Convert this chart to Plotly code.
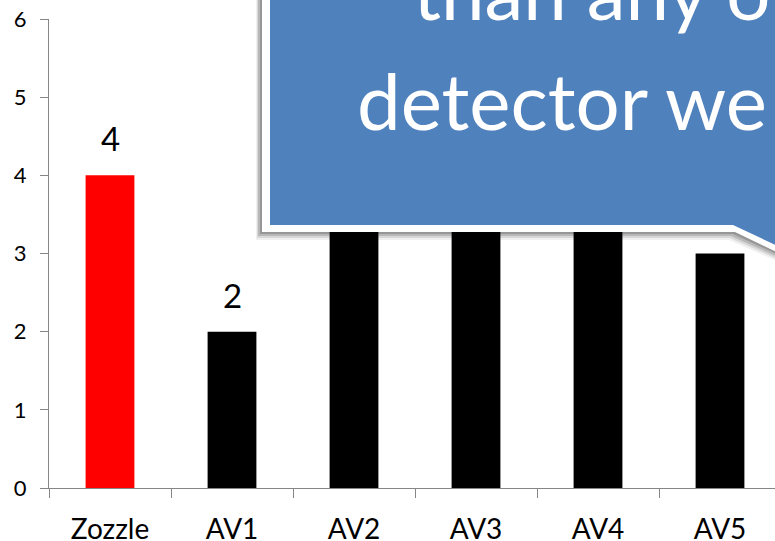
import plotly.graph_objects as go

categories = ["Zozzle", "AV1", "AV2", "AV3", "AV4", "AV5"]
values = [4, 2, 4, 4, 4, 3]
bar_colors = ["#FF0000", "#000000", "#000000", "#000000", "#000000", "#000000"]
labelled = [True, True, False, False, False, False]
y_ticks = [0, 1, 2, 3, 4, 5, 6]
callout_lines = ["than any other", "detector we tested"]

W, H = 775, 541
L, R, T, B = 49, 0, 19, 53
PW, PH = W - L - R, H - T - B
cat_px = 122.0

def px(x, y):
    return ((x - L) / PW, (H - B - y) / PH)

def path(points):
    pts = [px(x, y) for x, y in points]
    return "M " + " L ".join(f"{a:.5f},{b:.5f}" for a, b in pts) + " Z"

fig = go.Figure()
fig.add_trace(go.Bar(x=categories, y=values, marker=dict(color=bar_colors, line=dict(width=0)),
                     width=0.4, hoverinfo="skip"))

annotations = []
for c, v, show in zip(categories, values, labelled):
    if show:
        annotations.append(dict(x=c, y=v, xref="x", yref="y", text=str(v), showarrow=False,
                                yanchor="bottom", yshift=15,
                                font=dict(family="Lato", size=33, color="#000000")))

shapes = []
# soft shadow layers
for dx, dy, op in [(-6, 8, 0.06), (-5, 6, 0.10), (-4, 4, 0.14), (-2, 2, 0.18)]:
    shapes.append(dict(type="path", xref="paper", yref="paper", layer="above",
                       path=path([(262 + dx, -60), (262 + dx, 232 + dy), (735 + dx, 232 + dy),
                                  (820, 272 + dy), (820, -60)]),
                       fillcolor=f"rgba(0,0,0,{op})", line=dict(width=0)))
# white border
shapes.append(dict(type="path", xref="paper", yref="paper", layer="above",
                   path=path([(262, -60), (262, 232), (735, 232), (820, 273), (820, -60)]),
                   fillcolor="#FFFFFF", line=dict(width=0)))
# blue body
shapes.append(dict(type="path", xref="paper", yref="paper", layer="above",
                   path=path([(270, -60), (270, 225), (733, 225), (820, 266), (820, -60)]),
                   fillcolor="#4F81BD", line=dict(width=0)))

ax1, ay1 = px(411, 21)
ax2, ay2 = px(355, 131)
annotations.append(dict(x=ax1, y=ay1, xref="paper", yref="paper", text=callout_lines[0],
                        showarrow=False, xanchor="left", yanchor="bottom", yshift=-18,
                        font=dict(family="Lato", size=78, color="#FFFFFF")))
annotations.append(dict(x=ax2, y=ay2, xref="paper", yref="paper", text=callout_lines[1],
                        showarrow=False, xanchor="left", yanchor="bottom", yshift=-18,
                        font=dict(family="Lato", size=78, color="#FFFFFF")))

fig.update_layout(
    width=W, height=H,
    margin=dict(l=L, r=R, t=T, b=B, pad=0, autoexpand=False),
    paper_bgcolor="#FFFFFF", plot_bgcolor="#FFFFFF",
    showlegend=False,
    shapes=shapes,
    annotations=annotations,
    xaxis=dict(type="category", range=[-0.5, -0.5 + PW / cat_px], tickson="boundaries",
               ticks="outside", ticklen=9, tickcolor="#868686", tickwidth=1.3,
               showline=True, linecolor="#868686", linewidth=1.3, showgrid=False,
               tickfont=dict(family="Lato", size=28, color="#000000"), ticklabelstandoff=16,
               automargin=False, fixedrange=True),
    yaxis=dict(range=[0, 6], tickvals=y_ticks, ticks="outside", ticklen=8,
               tickcolor="#868686", tickwidth=1.3, showline=True, linecolor="#868686",
               linewidth=1.3, showgrid=False, zeroline=False,
               tickfont=dict(family="Lato", size=22, color="#000000"), ticklabelstandoff=9,
               automargin=False, fixedrange=True),
)

fig.write_html("out.html", config={"displayModeBar": False},
               post_script="document.body.style.margin='0';document.body.style.overflow='hidden';")
